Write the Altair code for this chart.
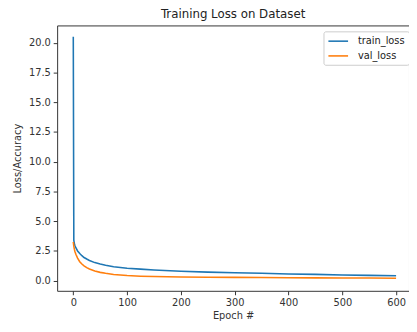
import altair as alt
import pandas as pd

epochs = [0, 1, 2, 3, 5, 8, 12, 16, 20, 25, 30, 40, 50, 60, 75, 100, 125, 150,
          200, 250, 300, 350, 400, 450, 500, 550, 600]
train_loss = [20.5, 3.4, 3.1, 2.95, 2.75, 2.5, 2.28, 2.1, 1.95, 1.82, 1.7, 1.52,
              1.4, 1.3, 1.18, 1.05, 0.97, 0.9, 0.8, 0.72, 0.67, 0.63, 0.57,
              0.53, 0.48, 0.45, 0.41]
val_loss = [3.25, 2.9, 2.65, 2.45, 2.2, 1.9, 1.6, 1.4, 1.25, 1.1, 0.98, 0.82,
            0.7, 0.62, 0.52, 0.43, 0.38, 0.35, 0.31, 0.29, 0.28, 0.27, 0.25,
            0.24, 0.23, 0.22, 0.21]
series_names = ["train_loss", "val_loss"]
series_colors = ["#1f77b4", "#ff7f0e"]
x_ticks = [0, 100, 200, 300, 400, 500, 600]
y_ticks = [0.0, 2.5, 5.0, 7.5, 10.0, 12.5, 15.0, 17.5, 20.0]

rows = []
for e, t, v in zip(epochs, train_loss, val_loss):
    rows.append({"epoch": e, "loss": t, "series": series_names[0]})
    rows.append({"epoch": e, "loss": v, "series": series_names[1]})
df = pd.DataFrame(rows)

font = "DejaVu Sans"

chart = alt.Chart(df).mark_line(strokeWidth=1.6, clip=True).encode(
    x=alt.X("epoch:Q",
            scale=alt.Scale(domain=[-30, 624], nice=False, zero=False),
            axis=alt.Axis(title="Epoch #", values=x_ticks, format="d",
                          grid=False, tickSize=4, labelPadding=3,
                          titlePadding=3, domain=False)),
    y=alt.Y("loss:Q",
            scale=alt.Scale(domain=[-0.85, 21.45], nice=False, zero=False),
            axis=alt.Axis(title="Loss/Accuracy", values=y_ticks, format=".1f",
                          grid=False, tickSize=4, labelPadding=3,
                          titlePadding=6, domain=False)),
    color=alt.Color("series:N",
                    scale=alt.Scale(domain=series_names, range=series_colors),
                    legend=alt.Legend(title=None, orient="none",
                                      legendX=271, legendY=6,
                                      symbolType="M-1,0H3", symbolSize=100,
                                      symbolStrokeWidth=1.6,
                                      labelOffset=19, rowPadding=4,
                                      fillColor="white", strokeColor="#cccccc",
                                      cornerRadius=2, padding=4,
                                      labelFontSize=10, labelFont=font,
                                      labelColor="#222")),
    order=alt.Order("epoch:Q"),
).properties(
    width=358,
    height=270,
    title=alt.TitleParams("Training Loss on Dataset", fontSize=12,
                          fontWeight="normal", font=font, color="#222",
                          offset=5),
    autosize=alt.AutoSizeParams(type="none"),
    padding={"left": 50, "top": 15, "right": 0, "bottom": 30},
).configure_view(
    stroke="#333", strokeWidth=1
).configure_axis(
    labelFont=font, titleFont=font, labelFontSize=10, titleFontSize=10,
    labelColor="#333", titleColor="#333", tickColor="#333",
    titleFontWeight="normal"
)

chart.save("out.html", embed_options={"renderer": "svg", "actions": False})
